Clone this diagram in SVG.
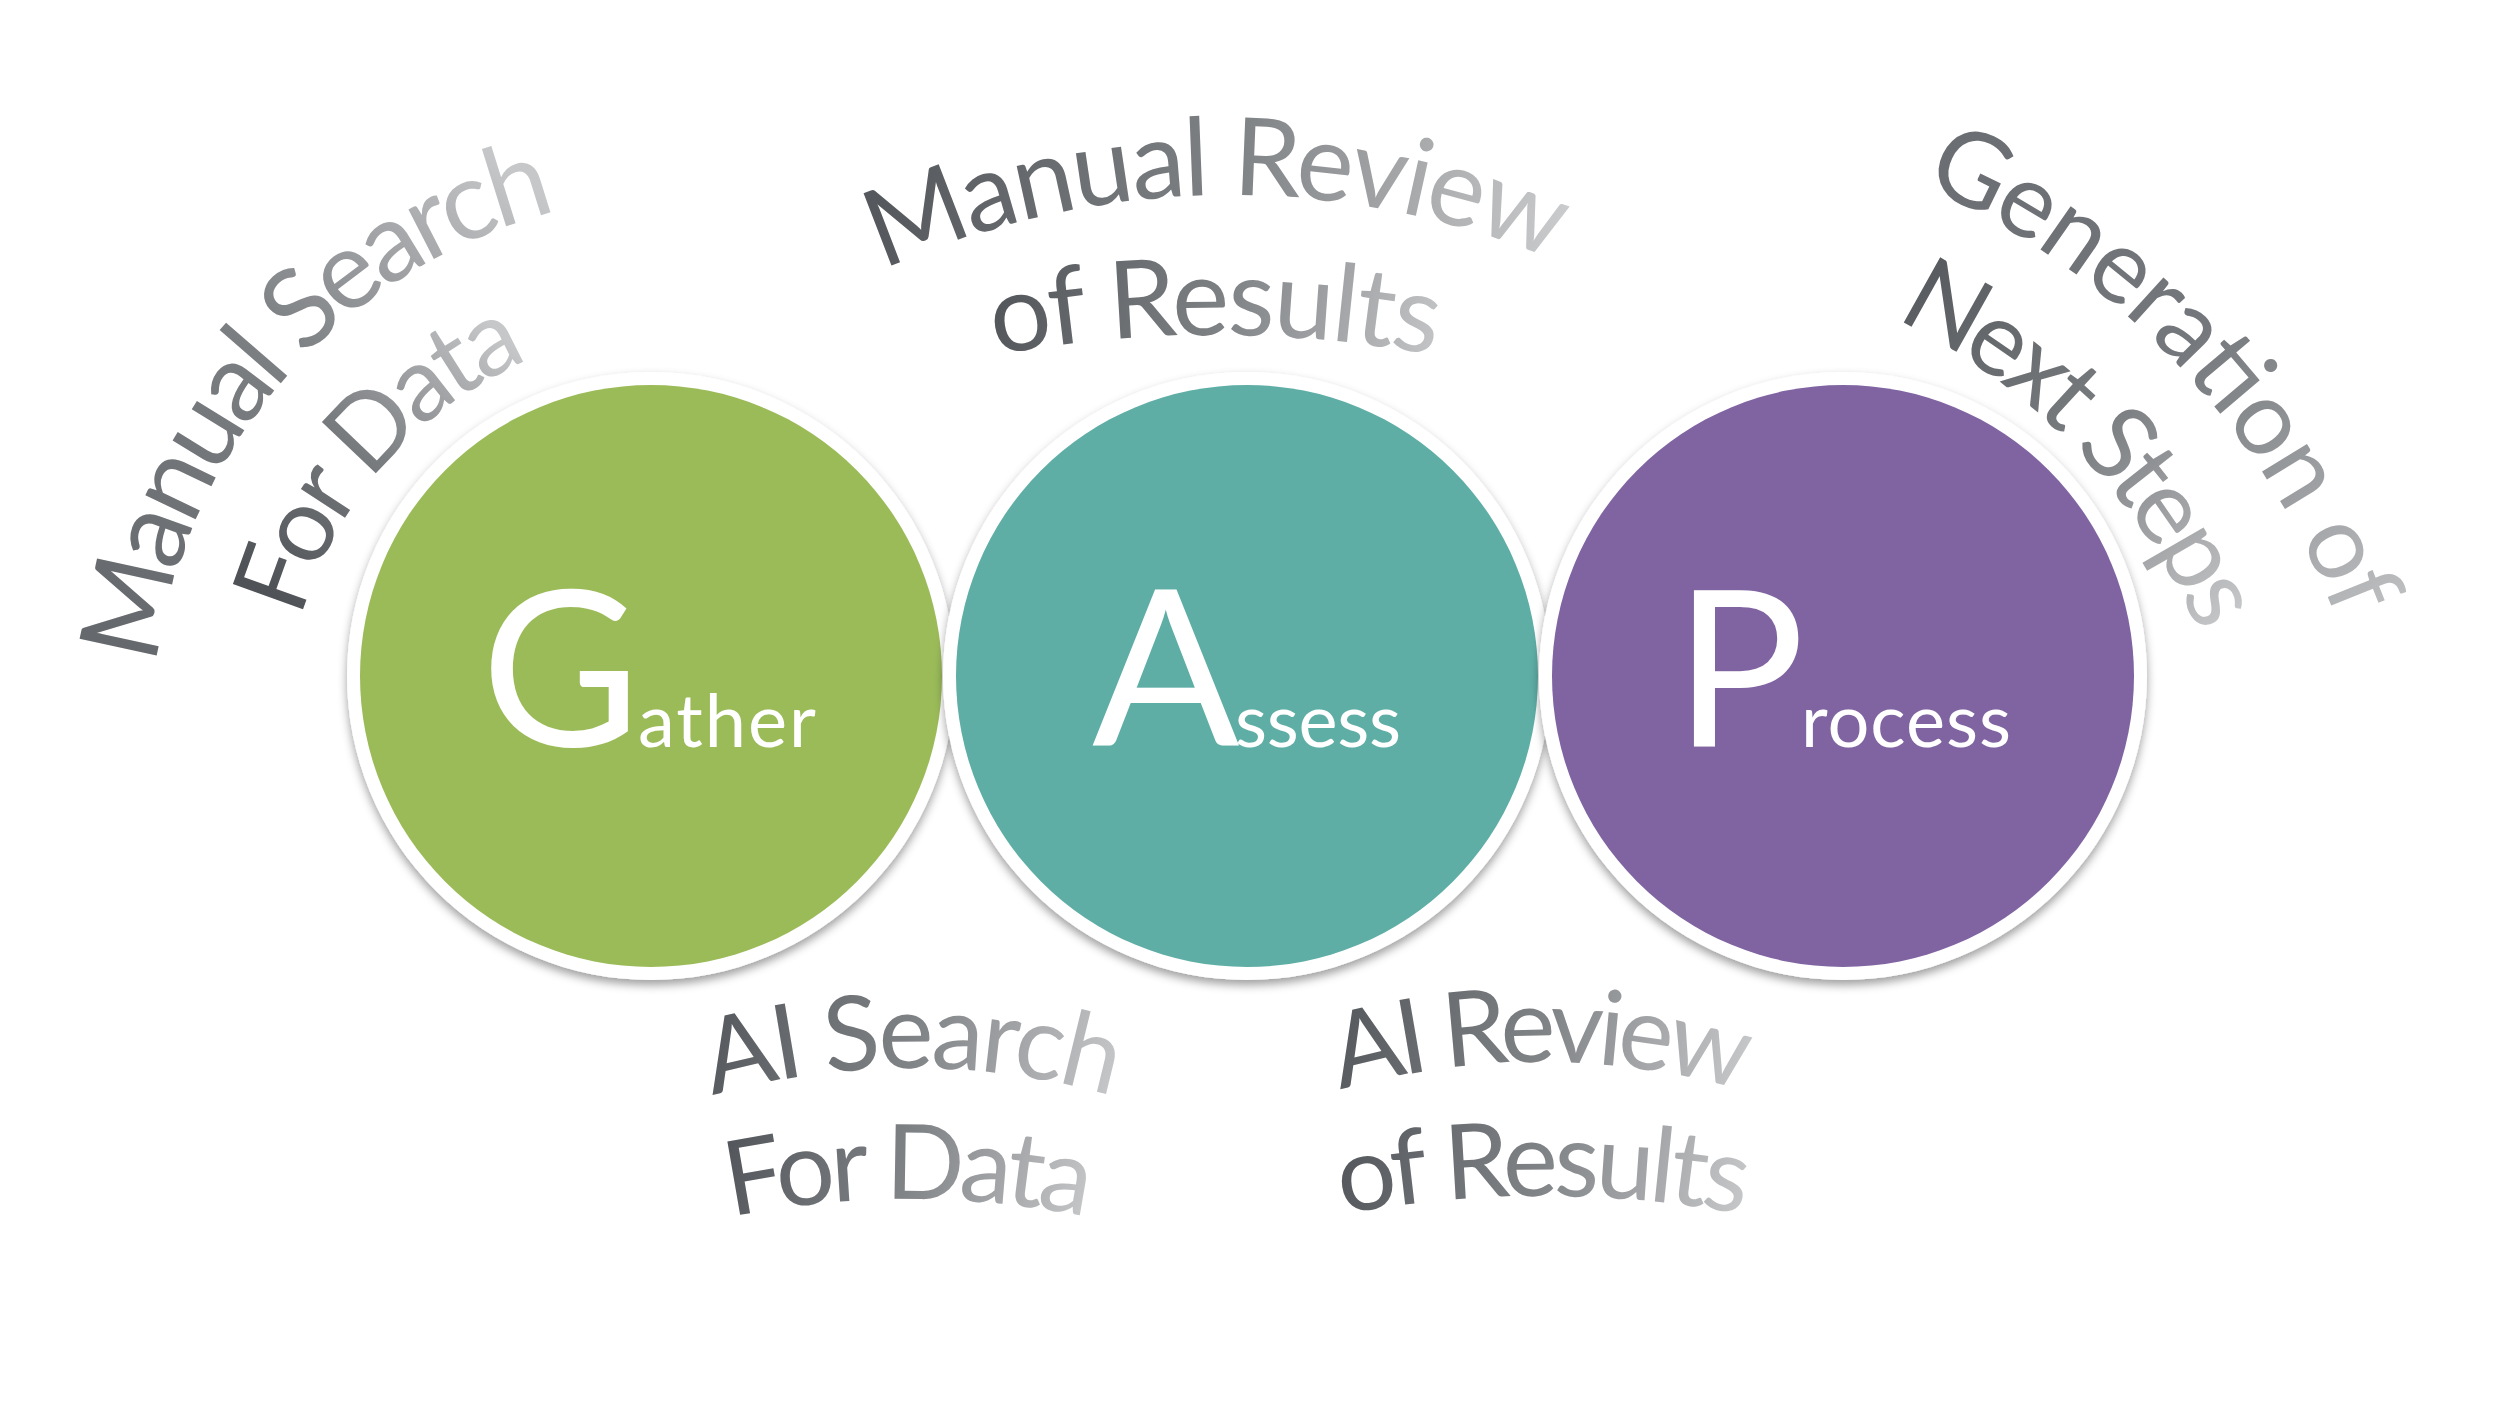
<svg xmlns="http://www.w3.org/2000/svg" width="2500" height="1406" viewBox="0 0 2500 1406">
<style>
.arc{font-family:Lato,"Open Sans","DejaVu Sans",sans-serif;font-size:104px}
.lbl{font-family:Lato,"Open Sans","DejaVu Sans",sans-serif;fill:#ffffff}
.big{font-size:218px}
.small{font-size:74px}
.ring{fill:#ffffff;filter:url(#sh)}
</style>
<defs>
<filter id="sh" x="-10%" y="-10%" width="120%" height="125%">
<feDropShadow dx="0" dy="5" stdDeviation="5" flood-color="#000000" flood-opacity="0.38"/>
</filter>
<linearGradient id="gMS1" gradientUnits="userSpaceOnUse" x1="157" y1="666" x2="558" y2="211"><stop offset="0" stop-color="#65686c"/><stop offset="0.55" stop-color="#7e8184"/><stop offset="1" stop-color="#c6c7c9"/></linearGradient>
<linearGradient id="gMS2" gradientUnits="userSpaceOnUse" x1="300" y1="618" x2="530" y2="360"><stop offset="0" stop-color="#4f5256"/><stop offset="0.5" stop-color="#7a7d80"/><stop offset="1" stop-color="#c6c7c9"/></linearGradient>
<linearGradient id="gMR1" gradientUnits="userSpaceOnUse" x1="880" y1="200" x2="1560" y2="300"><stop offset="0" stop-color="#55585c"/><stop offset="0.5" stop-color="#7f8285"/><stop offset="1" stop-color="#cbcccd"/></linearGradient>
<linearGradient id="gMR2" gradientUnits="userSpaceOnUse" x1="990" y1="260" x2="1440" y2="370"><stop offset="0" stop-color="#505357"/><stop offset="0.5" stop-color="#7d8083"/><stop offset="1" stop-color="#c6c7c9"/></linearGradient>
<linearGradient id="gGN1" gradientUnits="userSpaceOnUse" x1="1920" y1="150" x2="2370" y2="620"><stop offset="0" stop-color="#6a6d71"/><stop offset="0.5" stop-color="#74777b"/><stop offset="1" stop-color="#bbbdbf"/></linearGradient>
<linearGradient id="gGN2" gradientUnits="userSpaceOnUse" x1="1890" y1="280" x2="2230" y2="640"><stop offset="0" stop-color="#55585c"/><stop offset="0.5" stop-color="#7a7d80"/><stop offset="1" stop-color="#cacbcd"/></linearGradient>
<linearGradient id="gAS1" gradientUnits="userSpaceOnUse" x1="710" y1="1010" x2="1115" y2="1110"><stop offset="0" stop-color="#55585c"/><stop offset="0.5" stop-color="#818487"/><stop offset="1" stop-color="#c8c9cb"/></linearGradient>
<linearGradient id="gAS2" gradientUnits="userSpaceOnUse" x1="730" y1="1120" x2="1090" y2="1225"><stop offset="0" stop-color="#52555a"/><stop offset="0.5" stop-color="#818487"/><stop offset="1" stop-color="#c8c9cb"/></linearGradient>
<linearGradient id="gAR1" gradientUnits="userSpaceOnUse" x1="1340" y1="1000" x2="1745" y2="1100"><stop offset="0" stop-color="#55585c"/><stop offset="0.5" stop-color="#818487"/><stop offset="1" stop-color="#c8c9cb"/></linearGradient>
<linearGradient id="gAR2" gradientUnits="userSpaceOnUse" x1="1340" y1="1120" x2="1745" y2="1225"><stop offset="0" stop-color="#52555a"/><stop offset="0.5" stop-color="#818487"/><stop offset="1" stop-color="#c8c9cb"/></linearGradient>
<path id="p1" d="M 156.9 665.7 A 535 535 0 0 1 557.7 211.1"/>
<path id="p2" d="M 300.7 618.5 A 403 403 0 0 1 529.2 359.6"/>
<path id="p3" d="M 882.9 270.4 A 837 837 0 0 1 1553 259.8"/>
<path id="p4" d="M 995.2 355 A 1220 1220 0 0 1 1434.8 355"/>
<path id="p5" d="M 1921.8 185.9 A 766 766 0 0 1 2337 620.5"/>
<path id="p6" d="M 1894.9 318.7 A 634 634 0 0 1 2200.1 634.1"/>
<path id="p7" d="M 712.6 1095.8 A 728 728 0 0 1 1111.4 1095.8"/>
<path id="p8" d="M 730.8 1217 A 889 889 0 0 1 1087.2 1217"/>
<path id="p9" d="M 1340.3 1090.2 A 728 728 0 0 1 1741.7 1090.2"/>
<path id="p10" d="M 1342 1214 A 1131 1131 0 0 1 1744 1214"/>
</defs>
<rect x="0" y="0" width="2500" height="1406" fill="#ffffff"/>
<g id="connectors"></g>
<g id="gather">
<circle class="ring" cx="651" cy="676" r="304"/>
<circle cx="651" cy="676" r="291" fill="#9bbb59"/>
<text class="lbl big" x="481" y="746">G</text>
<text class="lbl small" x="638" y="747" textLength="178">ather</text>
</g>
<g id="assess">
<circle class="ring" cx="1247" cy="676" r="304"/>
<circle cx="1247" cy="676" r="291" fill="#5eaea6"/>
<text class="lbl big" x="1092" y="746">A</text>
<text class="lbl small" x="1235" y="747" textLength="166">ssess</text>
</g>
<g id="process">
<circle class="ring" cx="1843" cy="676" r="304"/>
<circle cx="1843" cy="676" r="291" fill="#8064a2"/>
<text class="lbl big" x="1674" y="746">P</text>
<text class="lbl small" x="1801" y="747" textLength="210">rocess</text>
</g>
<g id="manual-search">
<text class="arc" style="font-size:110px" fill="url(#gMS1)"><textPath href="#p1" textLength="644">Manual Search</textPath></text>
<text class="arc" fill="url(#gMS2)"><textPath href="#p2" textLength="357">For Data</textPath></text>
</g>
<g id="manual-review">
<text class="arc" style="font-size:108px" fill="url(#gMR1)"><textPath href="#p3" textLength="689">Manual Review</textPath></text>
<text class="arc" style="font-size:108px" fill="url(#gMR2)"><textPath href="#p4" textLength="442">of Results</textPath></text>
</g>
<g id="generation">
<text class="arc" fill="url(#gGN1)"><textPath href="#p5" textLength="618">Generation of</textPath></text>
<text class="arc" fill="url(#gGN2)"><textPath href="#p6" textLength="448">Next Steps</textPath></text>
</g>
<g id="ai-search">
<text class="arc" fill="url(#gAS1)"><textPath href="#p7" textLength="405">AI Search</textPath></text>
<text class="arc" fill="url(#gAS2)"><textPath href="#p8" textLength="358">For Data</textPath></text>
</g>
<g id="ai-review">
<text class="arc" fill="url(#gAR1)"><textPath href="#p9" textLength="407">AI Review</textPath></text>
<text class="arc" fill="url(#gAR2)"><textPath href="#p10" textLength="404">of Results</textPath></text>
</g>
</svg>
